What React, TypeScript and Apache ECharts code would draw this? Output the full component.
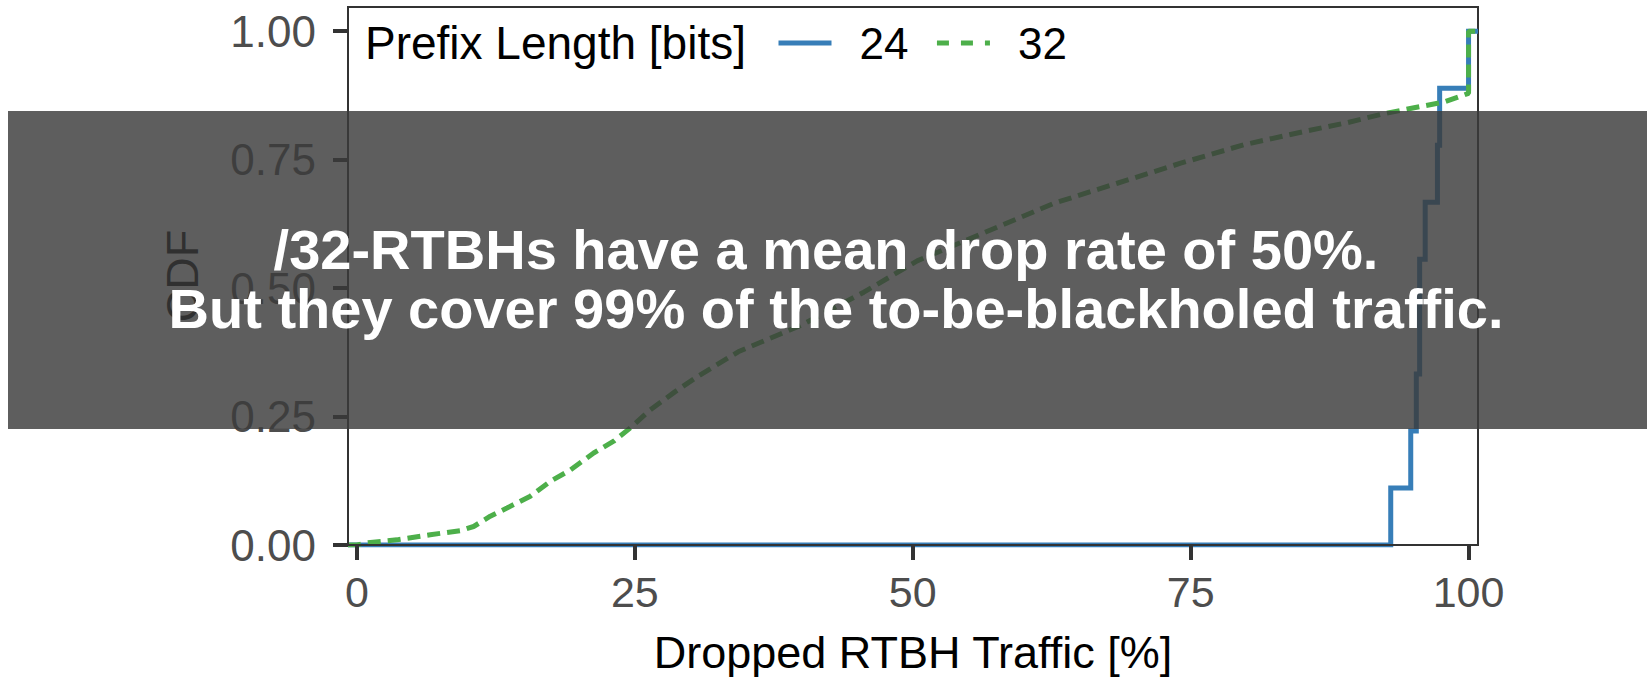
import React, { useEffect, useRef } from "react";
import * as echarts from "echarts";

// axis extents (data units)
const X_MIN = -0.8;
const X_MAX = 100.85;
const Y_MIN = 0;
const Y_MAX = 1.047;

const xTicks = [0, 25, 50, 75, 100];
const yTicks = [0, 0.25, 0.5, 0.75, 1.0];

// /24 prefixes: dropped traffic [%] and ECDF
const pct24 = [93.0, 94.8, 95.3, 95.6, 95.6, 96.1, 97.2, 97.4, 100.0];
const cdf24 = [0.111, 0.222, 0.333, 0.444, 0.556, 0.667, 0.778, 0.889, 1.0];

// /32 prefixes: dropped traffic [%] and ECDF
const pct32 = [0, 0.9, 3.6, 6.6, 9.3, 10.5, 12.0, 13.5, 15.6, 17.4, 19.2, 21.3, 23.1, 24.6, 26.4, 28.6, 30.8, 34.3, 40.0, 45.6, 50.4, 57.0, 62.7, 68.4, 74.1, 79.8, 85.5, 89.1, 92.1, 95.1, 97.8, 100.0, 100.0];
const cdf32 = [0, 0.004, 0.01, 0.02, 0.028, 0.036, 0.056, 0.072, 0.095, 0.124, 0.146, 0.179, 0.202, 0.228, 0.263, 0.298, 0.33, 0.376, 0.428, 0.492, 0.553, 0.613, 0.665, 0.704, 0.743, 0.779, 0.806, 0.822, 0.838, 0.851, 0.862, 0.879, 1.0];

const seriesNames = ["24", "32"];
const legendTitle = "Prefix Length [bits]";
const xTitle = "Dropped RTBH Traffic [%]";
const yTitle = "CDF";
const overlayLines = [
  "/32-RTBHs have a mean drop rate of 50%.",
  "But they cover 99% of the to-be-blackholed traffic.",
];

const FONT = "'Liberation Sans', Arial, Helvetica, sans-serif";

export default function App() {
  const ref = useRef<HTMLDivElement>(null);

  useEffect(() => {
    if (!ref.current) return;
    const chart = echarts.init(ref.current, undefined, { renderer: "svg" });

    const data24: number[][] = [[X_MIN, 0]];
    pct24.forEach((x, i) => data24.push([x, cdf24[i]]));
    data24.push([X_MAX, 1]);

    const data32: number[][] = [[X_MIN, 0]];
    pct32.forEach((x, i) => data32.push([x, cdf32[i]]));
    data32.push([X_MAX, 1]);

    chart.setOption({
      animation: false,
      backgroundColor: "#ffffff",
      textStyle: { fontFamily: FONT },
      grid: {
        left: 348,
        right: 174,
        top: 7,
        bottom: 137,
        show: true,
        borderColor: "#333333",
        borderWidth: 2,
        backgroundColor: "transparent",
      },
      legend: {
        left: 776,
        top: 18,
        padding: 0,
        itemWidth: 53,
        itemHeight: 14,
        itemGap: 26,
        itemStyle: { opacity: 0, color: "rgba(0,0,0,0)", borderWidth: 0 },
        lineStyle: { width: 5 },
        data: [
          { name: seriesNames[0] },
          { name: seriesNames[1], lineStyle: { width: 5, type: [12, 12] } },
        ],
        textStyle: {
          fontSize: 44,
          color: "#000000",
          fontFamily: FONT,
          lineHeight: 50,
          padding: [0, 0, 0, 23],
        },
      },
      xAxis: {
        type: "value",
        min: X_MIN,
        max: X_MAX,
        z: 5,
        name: xTitle,
        nameLocation: "middle",
        nameGap: 85,
        nameTextStyle: { fontSize: 45, color: "#000000", fontFamily: FONT },
        splitLine: { show: false },
        axisLine: { show: true, onZero: false, lineStyle: { color: "#333333", width: 2 } },
        axisTick: {
          show: true,
          length: 15,
          lineStyle: { color: "#333333", width: 4 },
          customValues: xTicks,
        },
        axisLabel: {
          fontSize: 43,
          color: "#4D4D4D",
          margin: 25,
          fontFamily: FONT,
          customValues: xTicks,
          formatter: (v: number) => String(v),
        },
      },
      yAxis: {
        type: "value",
        min: Y_MIN,
        max: Y_MAX,
        z: 5,
        name: yTitle,
        nameLocation: "middle",
        nameGap: 143,
        nameRotate: 90,
        nameTextStyle: { fontSize: 45, color: "#000000", fontFamily: FONT },
        splitLine: { show: false },
        axisLine: { show: true, onZero: false, lineStyle: { color: "#333333", width: 2 } },
        axisTick: {
          show: true,
          length: 15,
          lineStyle: { color: "#333333", width: 4 },
          customValues: yTicks,
        },
        axisLabel: {
          fontSize: 44,
          color: "#4D4D4D",
          margin: 32,
          fontFamily: FONT,
          customValues: yTicks,
          formatter: (v: number) => v.toFixed(2),
        },
      },
      series: [
        {
          name: seriesNames[0],
          type: "line",
          step: "end",
          symbol: "none",
          showSymbol: false,
          data: data24,
          z: 2,
          lineStyle: { color: "#377EB8", width: 5, cap: "butt", join: "miter" },
          itemStyle: { color: "#377EB8" },
        },
        {
          name: seriesNames[1],
          type: "line",
          symbol: "none",
          showSymbol: false,
          data: data32,
          z: 3,
          lineStyle: { color: "#4DAF4A", width: 5, type: [13, 7], cap: "butt" },
          itemStyle: { color: "#4DAF4A" },
        },
      ],
      graphic: [
        {
          type: "text",
          left: 365,
          top: 18,
          z: 10,
          style: {
            text: legendTitle,
            fontSize: 46,
            lineHeight: 50,
            fontFamily: FONT,
            fill: "#000000",
          },
        },
        {
          type: "rect",
          z: 100,
          shape: { x: 8, y: 111, width: 1639, height: 318 },
          style: { fill: "rgba(59,59,59,0.82)" },
        },
        {
          type: "text",
          z: 101,
          x: 826,
          y: 249,
          style: {
            text: overlayLines[0],
            fontSize: 56,
            fontWeight: "bold",
            fontFamily: FONT,
            fill: "#ffffff",
            align: "center",
            verticalAlign: "middle",
          },
        },
        {
          type: "text",
          z: 101,
          x: 836,
          y: 308,
          style: {
            text: overlayLines[1],
            fontSize: 56,
            fontWeight: "bold",
            fontFamily: FONT,
            fill: "#ffffff",
            align: "center",
            verticalAlign: "middle",
          },
        },
      ],
    });

    return () => {
      chart.dispose();
    };
  }, []);

  return (
    <div
      ref={ref}
      style={{ position: "fixed", left: 0, top: 0, width: 1652, height: 682, background: "#fff" }}
    />
  );
}
